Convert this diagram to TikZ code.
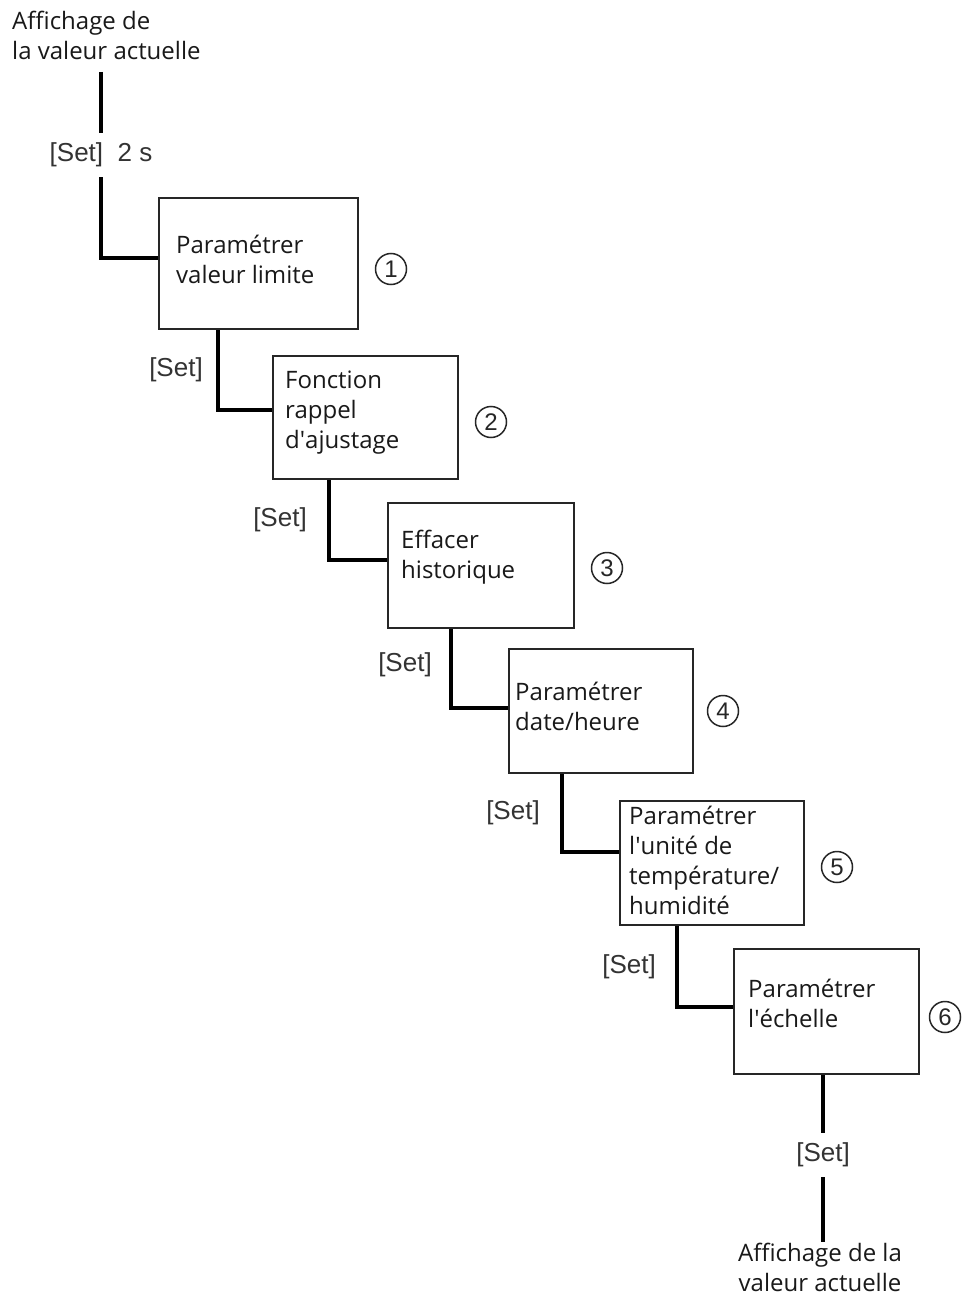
\documentclass[tikz,border=0pt]{standalone}
\usepackage{fontspec}
\setmainfont{Open Sans}
\newfontfamily\arialf{Liberation Sans}
\usetikzlibrary{calc}
\begin{document}
\begin{tikzpicture}[x=1pt,y=-1pt,
  box/.style={draw=black!85, line width=2pt, anchor=north west, inner sep=0pt},
  conn/.style={line width=3.5pt, black},
  txt/.style={font=\fontsize{24}{30}\selectfont, align=left, anchor=base west, inner sep=0pt, text=black!90},
  setlbl/.style={font=\arialf\fontsize{26}{30}\selectfont, inner xsep=2pt, inner ysep=10pt, text=black!80},
  num/.style={circle, draw=black!85, line width=1.5pt, minimum size=31pt, inner sep=0pt, font=\arialf\fontsize{24}{24}\selectfont, text=black!85}
]
\useasboundingbox (0,0) rectangle (962,1297);
\fill[white] (0,0) rectangle (962,1297);

% boxes
\node[box, minimum width=199pt, minimum height=131pt] (b1) at (158,197) {};
\node[box, minimum width=185pt, minimum height=123pt] (b2) at (272,355) {};
\node[box, minimum width=186pt, minimum height=125pt] (b3) at (387,502) {};
\node[box, minimum width=184pt, minimum height=124pt] (b4) at (508,648) {};
\node[box, minimum width=184pt, minimum height=124pt] (b5) at (619,800) {};
\node[box, minimum width=185pt, minimum height=125pt] (b6) at (733,948) {};

% box texts (anchor = baseline of the last line)
\node[txt] (t1) at (176,283) {Paramétrer\\valeur limite};
\node[txt] (t2) at (285,448) {Fonction\\rappel\\d\textquotesingle ajustage};
\node[txt] (t3) at (401,578) {Effacer\\historique};
\node[txt] (t4) at (515,730) {Paramétrer\\date/heure};
\node[txt] (t5) at (629,914) {Paramétrer\\l\textquotesingle unité de\\température/\\humidité};
\node[txt] (t6) at (748,1027) {Paramétrer\\l\textquotesingle échelle};

% numbers
\node[num] (n1) at (391,269) {1};
\node[num] (n2) at (491,422) {2};
\node[num] (n3) at (607,568) {3};
\node[num] (n4) at (723,711) {4};
\node[num] (n5) at (837,867) {5};
\node[num] (n6) at (945,1017) {6};

% set labels
\node[setlbl] (s0) at (101,155) {[Set]\ \ 2 s};
\node[setlbl] (s1) at (176,370) {[Set]};
\node[setlbl] (s2) at (280,520) {[Set]};
\node[setlbl] (s3) at (405,665) {[Set]};
\node[setlbl] (s4) at (513,813) {[Set]};
\node[setlbl] (s5) at (629,967) {[Set]};
\node[setlbl] (s6) at (823,1155) {[Set]};

% start / end texts
\node[txt] (t0) at (12,60) {Affichage de\\la valeur actuelle};
\node[txt, align=center, anchor=base] (t7) at (820,1291) {Affichage de la\\valeur actuelle};

% connectors
\coordinate (c0) at (101,72);
\draw[conn] (c0) -- (s0.north);
\draw[conn] (s0.south) |- ($(b1.north west)+(0,61)$);
\draw[conn] ($(b1.south west)+(60,0)$) |- ($(b2.north west)+(0,55)$);
\draw[conn] ($(b2.south west)+(57,0)$) |- ($(b3.north west)+(0,58)$);
\draw[conn] ($(b3.south west)+(64,0)$) |- ($(b4.north west)+(0,60)$);
\draw[conn] ($(b4.south west)+(54,0)$) |- ($(b5.north west)+(0,52)$);
\draw[conn] ($(b5.south west)+(58,0)$) |- ($(b6.north west)+(0,59)$);
\draw[conn] (b6.south -| s6) -- (s6.north);
\draw[conn] (s6.south) -- (s6 |- 0,1242);
\end{tikzpicture}
\end{document}
